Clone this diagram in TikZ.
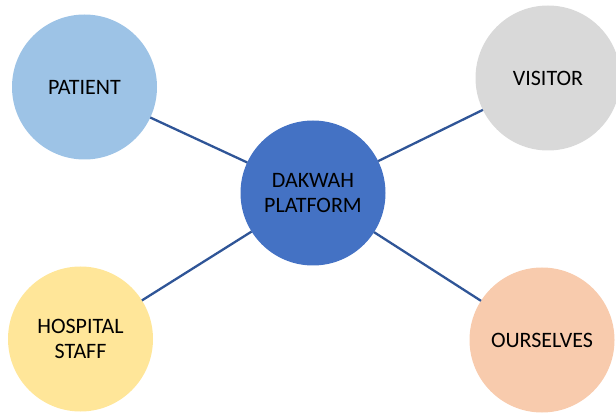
\documentclass[tikz,border=0pt]{standalone}
\usepackage{fontspec}
\setmainfont{Carlito}
\definecolor{cpatient}{HTML}{9DC3E6}
\definecolor{cvisitor}{HTML}{D9D9D9}
\definecolor{cdakwah}{HTML}{4472C4}
\definecolor{chospital}{HTML}{FFE699}
\definecolor{courselves}{HTML}{F8CBAD}
\definecolor{clink}{HTML}{2F5597}
\begin{document}
\begin{tikzpicture}[x=1pt,y=-1pt,
  bubble/.style={circle,minimum size=145pt,inner sep=0pt,outer sep=0pt,
    draw=none,align=center,font=\fontsize{22}{25}\selectfont,text=black},
  link/.style={draw=clink,line width=2.3pt}]
\useasboundingbox (0,0) rectangle (616,414);
\node[bubble,fill=cpatient] (patient) at (84.5,87) {PATIENT};
\node[bubble,fill=cvisitor] (visitor) at (548,78) {VISITOR};
\node[bubble,fill=cdakwah] (dakwah) at (313,193) {DAKWAH\\PLATFORM};
\node[bubble,fill=chospital] (hospital) at (80.5,339) {HOSPITAL\\STAFF};
\node[bubble,fill=courselves] (ourselves) at (542,340) {OURSELVES};
\draw[link] (patient) -- (dakwah);
\draw[link] (visitor) -- (dakwah);
\draw[link] (hospital) -- (dakwah);
\draw[link] (ourselves) -- (dakwah);
\end{tikzpicture}
\end{document}
